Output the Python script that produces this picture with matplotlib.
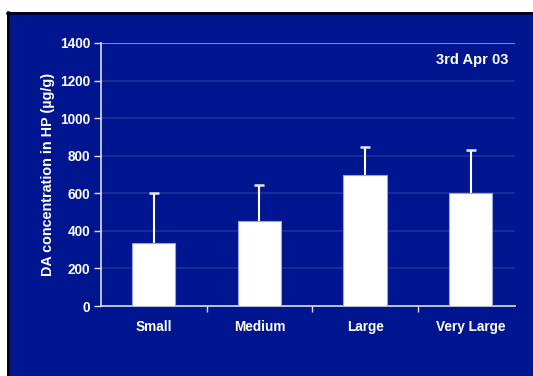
import matplotlib
matplotlib.use("Agg")
import matplotlib.pyplot as plt
from matplotlib.patches import Rectangle
from matplotlib.lines import Line2D

categories = ["Small", "Medium", "Large", "Very Large"]
values = [335, 455, 700, 600]
errors = [268, 190, 148, 232]
yticks = [0, 200, 400, 600, 800, 1000, 1200, 1400]
ylabel = "DA concentration in HP (\u00b5g/g)"
annotation = "3rd Apr 03"

W, H = 533, 376
BG = "#001690"
fig = plt.figure(figsize=(W / 100, H / 100), dpi=100)
fig.patch.set_facecolor("white")
fig.patches.append(Rectangle((7 / W, 0), 1.0, (H - 12) / H, transform=fig.transFigure,
                             facecolor=BG, edgecolor="none", zorder=-5))
fig.lines.append(Line2D([7.5 / W, 7.5 / W], [0, (H - 12) / H], transform=fig.transFigure,
                        color="black", linewidth=1.8, zorder=-4))
fig.lines.append(Line2D([7 / W, 1.0], [(H - 12.5) / H, (H - 12.5) / H], transform=fig.transFigure,
                        color="black", linewidth=1.8, zorder=-4))

left, right, top, bottom = 101, 515, 43, 306
ax = fig.add_axes([left / W, 1 - bottom / H, (right - left) / W, (bottom - top) / H])
ax.set_zorder(5)
ax.patch.set_alpha(0)

step = 105.65
xmax = -0.5 + (right - left) / step
x = list(range(len(categories)))
tops = [v + e for v, e in zip(values, errors)]
ax.bar(x, values, width=0.41, color="white", edgecolor="#9aa3d6", linewidth=0.8, zorder=3)
ax.vlines(x, values, tops, color="white", linewidth=1.5, zorder=4)
ax.plot(x, tops, linestyle="none", marker="_", markersize=7, markeredgewidth=1.8,
        color="#e8e8f4", zorder=4)

ax.set_xlim(-0.5, xmax)
ax.set_ylim(0, 1400)
ax.set_yticks(yticks)
ax.set_yticklabels([str(v) for v in yticks])
for v in yticks[1:-1]:
    ax.axhline(v, color="#1e3199", linewidth=1.2, zorder=1)
ax.axhline(1400, color="#8a8a8a", linewidth=1.5, zorder=2)

ax.set_xticks(x)
ax.set_xticklabels(categories)
ax.set_xticks([0.5, 1.5, 2.5], minor=True)
ax.tick_params(axis="x", which="major", length=0, pad=10)
ax.tick_params(axis="x", which="minor", length=4, color="#e0e0e0", width=1)
ax.tick_params(axis="y", length=5, color="#e0e0e0", width=1, pad=3)

for lab in ax.get_xticklabels() + ax.get_yticklabels():
    lab.set_fontfamily("Liberation Sans")
    lab.set_fontweight("bold")
    lab.set_fontsize(9.8)
    lab.set_color("white")

for s in ["top", "right"]:
    ax.spines[s].set_visible(False)
for s in ["left", "bottom"]:
    ax.spines[s].set_color("#e0e0e0")
    ax.spines[s].set_linewidth(1.2)

ax.set_ylabel(ylabel, fontfamily="Liberation Sans", fontweight="bold", fontsize=10.4, color="white", labelpad=3)
ax.text(0.985, 0.935, annotation, transform=ax.transAxes, ha="right", va="center",
        fontfamily="Liberation Sans", fontweight="bold", fontsize=10.5, color="white")

fig.savefig("out.png", dpi=100, facecolor=fig.get_facecolor())
